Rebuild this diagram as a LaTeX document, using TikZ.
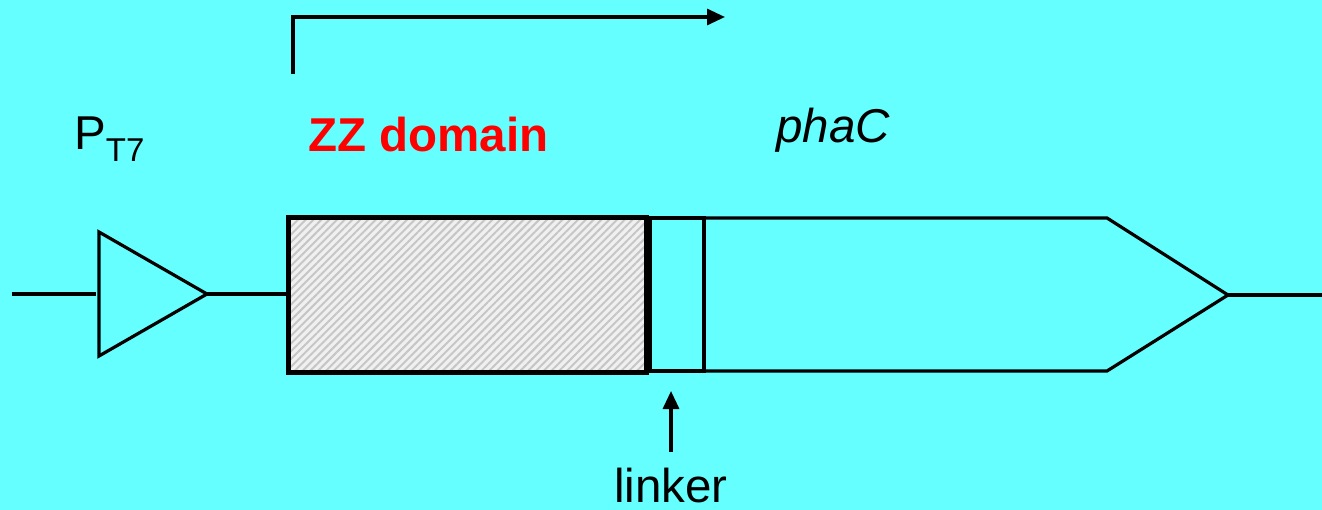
\documentclass[tikz,border=0pt]{standalone}
\usepackage{fontspec}
\setmainfont{Liberation Sans}
\usetikzlibrary{patterns.meta,arrows.meta}
\definecolor{bg}{HTML}{66FFFF}
\definecolor{zzred}{HTML}{FF0000}
\tikzset{
  gene/.style={line width=3.2pt, line join=miter},
  thickbox/.style={line width=5pt},
  lbl/.style={anchor=base west, inner sep=0pt, font=\fontsize{47.5}{52}\selectfont},
  arr/.style={line width=3.2pt, -{Triangle[length=18pt,width=16pt]}},
}
\begin{document}
\begin{tikzpicture}[x=1pt,y=-1pt]
\fill[bg] (0,0) rectangle (1322,510);
\useasboundingbox (0,0) rectangle (1322,510);
% coordinates
\coordinate (l0) at (12,294);
\coordinate (l1) at (96,294);
\coordinate (t1) at (99,232);
\coordinate (t2) at (207,294);
\coordinate (t3) at (99,356);
\coordinate (z1) at (288,294);
\coordinate (e1) at (1228,295);
\coordinate (e2) at (1322,295);
\coordinate (s0) at (293,74);
\coordinate (s1) at (725,17);
\coordinate (k0) at (671,452);
\coordinate (k1) at (671,391);
% backbone
\draw[gene] (l0) -- (l1);
\draw[gene] (t1) -- (t2) -- (t3) -- cycle;
\draw[gene] (t2) -- (z1);
% ZZ domain
\fill[gray!12] (288,218) rectangle (646,372);
\fill[pattern={Lines[angle=45,distance=5.5pt,line width=2pt]}, pattern color=gray!45] (288,218) rectangle (646,372);
\draw[thickbox] (288,218) rectangle (646,372);
% linker
\draw[gene] (650,218) rectangle (704,371);
% phaC
\draw[gene] (704,218) -- (1107,218) -- (e1) -- (1107,371) -- (704,371);
\draw[line width=4.5pt] (e1) -- (e2);
% transcription arrow
\draw[arr] (s0) |- (s1);
\draw[arr] (k0) -- (k1);
% labels
\node[lbl] (pt7) at (74,150) {P\raisebox{-12pt}{\fontsize{33}{36}\selectfont T7}};
\node[lbl, text=zzred, font=\fontsize{47.5}{52}\selectfont\bfseries] (zz) at (308,152) {ZZ domain};
\node[lbl, font=\fontsize{47.5}{52}\selectfont\itshape] (pha) at (776,143) {phaC};
\node[lbl] (lk) at (614,502) {linker};
\end{tikzpicture}
\end{document}
